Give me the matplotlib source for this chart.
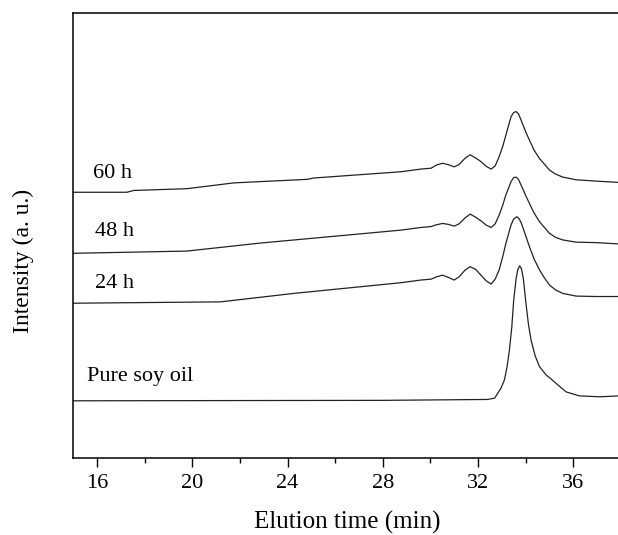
"""GPC traces of soy oil before and after reaction (stacked, arbitrary offsets)."""
import matplotlib

matplotlib.use("Agg")
import matplotlib.pyplot as plt
from matplotlib.ticker import MultipleLocator, NullLocator

plt.rcParams.update(
    {
        "font.family": ["Liberation Serif", "DejaVu Serif"],
        "font.size": 16,
        "axes.linewidth": 1.1,
    }
)

# values (x in min, y in a.u. incl. the stacking offset)
t_60 = [15.0, 17.25, 17.53, 19.77, 21.74, 24.83, 25.11, 28.76, 29.6, 30.03, 30.25, 30.51,
        30.75, 31.0, 31.2, 31.45, 31.67, 31.9, 32.12, 32.35, 32.55, 32.72, 32.89, 33.05,
        33.17, 33.39, 33.5, 33.6, 33.7, 33.81, 34.0, 34.16, 34.35, 34.58, 35.0, 35.25,
        35.56, 36.12, 36.96, 37.93]
i_60 = [59.7, 59.7, 60.1, 60.5, 61.8, 62.6, 62.9, 64.3, 64.9, 65.1, 65.8, 66.2,
        65.9, 65.4, 65.9, 67.3, 68.1, 67.4, 66.6, 65.5, 64.9, 65.6, 67.7, 70.2,
        72.5, 76.7, 77.6, 77.8, 77.3, 75.9, 73.3, 71.4, 69.2, 67.3, 64.7, 63.8,
        63.1, 62.5, 62.2, 61.9]

t_48 = [15.0, 19.77, 22.86, 28.76, 29.6, 30.03, 30.25, 30.51, 30.75, 31.0, 31.2, 31.45,
        31.67, 31.9, 32.12, 32.35, 32.55, 32.72, 32.89, 33.05, 33.17, 33.39, 33.5, 33.6,
        33.7, 33.81, 34.0, 34.16, 34.35, 34.58, 35.0, 35.25, 35.56, 36.12, 36.96, 37.93]
i_48 = [46.0, 46.5, 48.3, 51.2, 51.8, 52.0, 52.4, 52.7, 52.5, 52.1, 52.6, 53.9,
        54.8, 54.1, 53.3, 52.3, 51.8, 52.6, 54.6, 57.0, 59.1, 62.1, 63.0, 63.1,
        62.6, 61.3, 59.0, 57.2, 55.1, 53.1, 50.5, 49.6, 49.0, 48.5, 48.4, 48.1]

t_24 = [15.0, 21.18, 24.26, 28.76, 29.6, 30.03, 30.25, 30.51, 30.75, 31.0, 31.2, 31.45,
        31.67, 31.9, 32.12, 32.35, 32.55, 32.72, 32.89, 33.05, 33.17, 33.39, 33.5, 33.63,
        33.72, 33.81, 33.95, 34.16, 34.35, 34.58, 34.8, 35.0, 35.25, 35.56, 36.12, 36.96,
        37.93]
i_24 = [34.8, 35.1, 37.0, 39.4, 40.0, 40.2, 40.7, 41.1, 40.6, 40.0, 40.7, 42.2,
        43.0, 42.4, 41.1, 39.8, 39.1, 40.2, 42.3, 45.5, 48.2, 52.4, 53.7, 54.2,
        53.8, 52.9, 50.8, 47.5, 44.8, 42.3, 40.4, 38.9, 37.8, 37.0, 36.4, 36.3,
        36.3]

t_pure = [15.0, 28.0, 32.4, 32.7, 32.83, 32.97, 33.11, 33.22, 33.32, 33.42, 33.5, 33.6,
          33.67, 33.75, 33.82, 33.9, 34.02, 34.12, 34.23, 34.4, 34.58, 34.86, 35.05, 35.28,
          35.5, 35.7, 36.26, 37.11, 37.93]
i_pure = [12.9, 13.0, 13.2, 13.5, 14.6, 15.8, 17.6, 20.5, 24.3, 29.5, 35.5, 40.3,
          42.3, 43.2, 42.6, 40.5, 34.5, 30.0, 26.5, 23.0, 20.6, 18.7, 17.9, 16.8,
          15.8, 14.9, 14.0, 13.8, 14.0]

labels = ["60 h", "48 h", "24 h", "Pure soy oil"]
label_x = [15.84, 15.91, 15.91, 15.59]
label_y = [64.0, 50.9, 39.3, 18.3]


def main() -> None:
    fig = plt.figure(figsize=(6.18, 5.35), dpi=100)
    ax = fig.add_axes([0.1186, 0.1434, 0.8860, 0.8329])

    for t, i in [(t_60, i_60), (t_48, i_48), (t_24, i_24), (t_pure, i_pure)]:
        ax.plot(t, i, color="#222222", lw=0.9, solid_joinstyle="round")
    for s, x, y in zip(labels, label_x, label_y):
        ax.text(x, y, s, ha="left", va="center", fontsize=16)

    ax.set_xlim(15, 38)
    ax.set_ylim(0, 100)
    ax.set_xticks([16, 20, 24, 28, 32, 36])
    ax.xaxis.set_minor_locator(MultipleLocator(2))
    ax.yaxis.set_major_locator(NullLocator())
    ax.tick_params(axis="x", which="major", direction="out", length=6.5, width=1.0, pad=5)
    ax.tick_params(axis="x", which="minor", direction="out", length=3.6, width=1.0)
    ax.spines["right"].set_visible(False)

    ax.set_xlabel("Elution time (min)", fontsize=18)
    ax.set_ylabel("Intensity (a. u.)", fontsize=17)
    ax.xaxis.set_label_coords(0.5, -0.143)
    ax.yaxis.set_label_coords(-0.092, 0.443)
    for lab in [ax.xaxis.label, ax.yaxis.label]:
        lab.set_va("center")

    fig.savefig("out.png", dpi=100)
    plt.close(fig)


if __name__ == "__main__":
    main()
